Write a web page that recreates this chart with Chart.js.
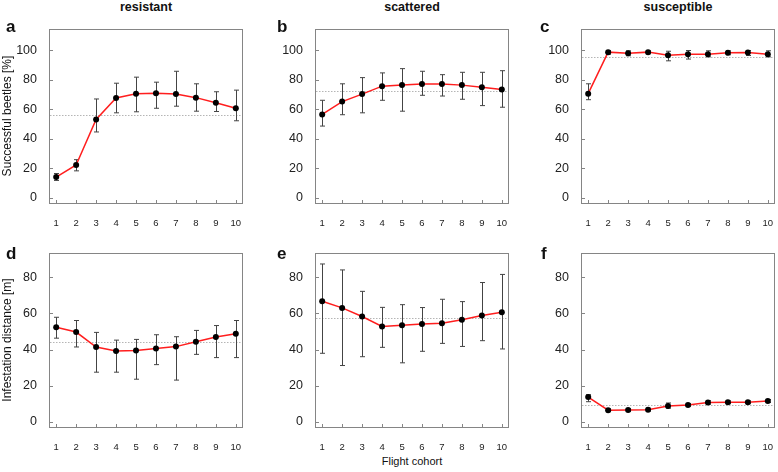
<!DOCTYPE html>
<html>
<head>
<meta charset="utf-8">
<script src="https://cdn.jsdelivr.net/npm/chart.js@4.4.0/dist/chart.umd.min.js"></script>
<style>
  body { margin: 0; background: #fff; }
  #wrap { position: relative; width: 778px; height: 472px; overflow: hidden; font-family: 'Liberation Sans', Arial, sans-serif; color: #111; }
  canvas { position: absolute; }
  .title { position: absolute; width: 194px; text-align: center; font-weight: bold; font-size: 12.5px; line-height: 14px; top: 0; }
  .letter { position: absolute; font-weight: bold; font-size: 17px; line-height: 18px; }
  .ylab { position: absolute; width: 200px; height: 14px; line-height: 14px; font-size: 12px; text-align: center; transform: rotate(-90deg); transform-origin: 50% 50%; }
  .xlab { position: absolute; width: 200px; text-align: center; font-size: 11px; line-height: 13px; }
</style>
</head>
<body>
<div id="wrap">
  <canvas id="chartA" width="242" height="205" style="left:4px;top:24px"></canvas>
  <canvas id="chartB" width="242" height="205" style="left:270px;top:24px"></canvas>
  <canvas id="chartC" width="242" height="205" style="left:536px;top:24px"></canvas>
  <canvas id="chartD" width="242" height="205" style="left:4px;top:248px"></canvas>
  <canvas id="chartE" width="242" height="205" style="left:270px;top:248px"></canvas>
  <canvas id="chartF" width="242" height="205" style="left:536px;top:248px"></canvas>

  <div class="title" style="left:49px">resistant</div>
  <div class="title" style="left:315px">scattered</div>
  <div class="title" style="left:581px">susceptible</div>

  <div class="letter" style="left:6px;top:18px">a</div>
  <div class="letter" style="left:277px;top:18px">b</div>
  <div class="letter" style="left:540px;top:18px">c</div>
  <div class="letter" style="left:6px;top:245px">d</div>
  <div class="letter" style="left:277px;top:245px">e</div>
  <div class="letter" style="left:541px;top:245px">f</div>

  <div class="ylab" style="left:-93px;top:109px">Successful beetles [%]</div>
  <div class="ylab" style="left:-93px;top:333px">Infestation distance [m]</div>
  <div class="xlab" style="left:312px;top:455px">Flight cohort</div>
</div>

<script>
const cohorts = [1, 2, 3, 4, 5, 6, 7, 8, 9, 10];
const successTicks = [0, 20, 40, 60, 80, 100];
const distanceTicks = [0, 20, 40, 60, 80];

// a - resistant, successful beetles
const resistantSuccess = [13.9, 22.1, 53.0, 67.6, 70.5, 70.7, 70.2, 67.8, 64.4, 60.6];
const resistantSuccessLow = [11.6, 18.1, 44.5, 57.5, 58.2, 60.6, 62.0, 58.6, 58.4, 52.1];
const resistantSuccessHigh = [16.3, 25.7, 66.9, 77.6, 81.7, 78.3, 85.7, 77.2, 71.8, 72.9];
const resistantSuccessMean = 55.9;

// b - scattered, successful beetles
const scatteredSuccess = [56.4, 65.1, 70.2, 75.6, 76.3, 77.0, 77.0, 76.3, 74.9, 73.4];
const scatteredSuccessLow = [48.5, 56.2, 57.5, 66.0, 58.6, 69.4, 68.9, 66.7, 62.4, 61.3];
const scatteredSuccessHigh = [66.0, 77.2, 81.4, 84.6, 87.5, 85.7, 83.4, 85.0, 85.0, 86.1];
const scatteredSuccessMean = 72.5;

// c - susceptible, successful beetles
const susceptibleSuccess = [70.5, 98.7, 98.0, 98.7, 96.6, 97.3, 97.3, 98.2, 98.4, 97.3];
const susceptibleSuccessLow = [66.4, 97.3, 96.2, 97.6, 92.8, 94.0, 95.5, 96.9, 96.4, 95.5];
const susceptibleSuccessHigh = [77.2, 99.8, 99.6, 99.6, 99.3, 99.8, 99.6, 99.6, 99.8, 99.6];
const susceptibleSuccessMean = 95.3;

// d - resistant, infestation distance
const resistantDistance = [52.4, 49.7, 41.4, 39.2, 39.5, 40.6, 41.6, 44.3, 46.9, 48.7];
const resistantDistanceLow = [46.3, 41.4, 27.4, 27.4, 23.5, 31.6, 23.0, 37.3, 35.5, 35.5];
const resistantDistanceHigh = [57.9, 56.1, 49.5, 45.2, 45.6, 48.2, 47.1, 50.6, 53.3, 56.1];
const resistantDistanceMean = 44.3;

// e - scattered, infestation distance
const scatteredDistance = [66.8, 63.1, 58.3, 52.8, 53.5, 54.1, 54.6, 56.5, 58.9, 60.7];
const scatteredDistanceLow = [37.9, 31.1, 36.0, 41.2, 32.6, 39.0, 43.4, 41.7, 44.9, 40.3];
const scatteredDistanceHigh = [87.5, 84.2, 72.3, 63.4, 64.9, 63.3, 67.9, 66.6, 77.2, 81.7];
const scatteredDistanceMean = 57.7;

// f - susceptible, infestation distance
const susceptibleDistance = [13.6, 6.3, 6.4, 6.6, 8.6, 9.2, 10.5, 10.7, 10.7, 11.4];
const susceptibleDistanceLow = [11.0, 5.5, 5.6, 5.8, 7.4, 8.4, 9.6, 9.9, 9.9, 10.6];
const susceptibleDistanceHigh = [14.9, 7.1, 7.2, 7.4, 10.3, 10.0, 11.6, 11.5, 11.5, 12.2];
const susceptibleDistanceMean = 9.4;

Chart.defaults.font.family = "'Liberation Sans', Arial, sans-serif";
Chart.defaults.color = '#222';

// box, inward ticks, mean line and error bars
const panelDecor = {
    id: 'panelDecor',
    beforeDatasetsDraw(chart, args, opts) {
        const { ctx, chartArea: a, scales: { x, y } } = chart;
        ctx.save();
        ctx.lineWidth = 1;

        ctx.strokeStyle = '#858585';
        ctx.strokeRect(a.left + 0.5, a.top + 0.5, a.width - 1, a.height - 1);
        ctx.beginPath();
        x.ticks.forEach(t => {
            const px = Math.round(x.getPixelForValue(t.value)) + 0.5;
            ctx.moveTo(px, a.bottom);
            ctx.lineTo(px, a.bottom - 4);
        });
        y.ticks.forEach(t => {
            const py = Math.round(y.getPixelForValue(t.value)) + 0.5;
            ctx.moveTo(a.left, py);
            ctx.lineTo(a.left + 4, py);
        });
        ctx.stroke();

        ctx.strokeStyle = '#b5b5b5';
        ctx.setLineDash([1.5, 1.5]);
        const my = Math.round(y.getPixelForValue(opts.mean)) + 0.5;
        ctx.beginPath();
        ctx.moveTo(a.left + 1, my);
        ctx.lineTo(a.right - 1, my);
        ctx.stroke();
        ctx.setLineDash([]);

        ctx.strokeStyle = '#444';
        ctx.beginPath();
        cohorts.forEach((c, i) => {
            const px = Math.round(x.getPixelForValue(c)) + 0.5;
            const lo = y.getPixelForValue(opts.low[i]);
            const hi = y.getPixelForValue(opts.high[i]);
            ctx.moveTo(px, lo);
            ctx.lineTo(px, hi);
            ctx.moveTo(px - 2.5, lo);
            ctx.lineTo(px + 2.5, lo);
            ctx.moveTo(px - 2.5, hi);
            ctx.lineTo(px + 2.5, hi);
        });
        ctx.stroke();
        ctx.restore();
    }
};

function makePanel(id, values, low, high, mean, yTicks, yMax) {
    const pad = (yMax - 0) * 0.04;
    new Chart(document.getElementById(id), {
        type: 'line',
        data: {
            datasets: [{
                data: cohorts.map((c, i) => ({ x: c, y: values[i] })),
                borderColor: 'rgb(255, 30, 30)',
                borderWidth: 1.5,
                tension: 0,
                pointRadius: 3,
                pointBackgroundColor: '#000',
                pointBorderWidth: 0,
                pointHoverRadius: 3
            }]
        },
        options: {
            responsive: false,
            animation: false,
            events: [],
            layout: { padding: { top: 5, right: 3, left: 0, bottom: 0 } },
            plugins: {
                legend: { display: false },
                tooltip: { enabled: false },
                panelDecor: { mean: mean, low: low, high: high }
            },
            scales: {
                x: {
                    type: 'linear',
                    min: 0.64,
                    max: 10.36,
                    grid: { display: false },
                    border: { display: false },
                    ticks: { font: { size: 9.5 }, padding: 6, maxRotation: 0 },
                    afterBuildTicks: s => { s.ticks = cohorts.map(v => ({ value: v })); },
                    afterFit: s => { s.height = 25; s.paddingLeft = 0; s.paddingRight = 0; }
                },
                y: {
                    min: -pad,
                    max: yMax + pad,
                    grid: { display: false },
                    border: { display: false },
                    ticks: { font: { size: 12.5 }, padding: 4 },
                    afterBuildTicks: s => { s.ticks = yTicks.map(v => ({ value: v })); },
                    afterFit: s => { s.width = 45; s.paddingTop = 0; s.paddingBottom = 0; }
                }
            }
        },
        plugins: [panelDecor]
    });
}

makePanel('chartA', resistantSuccess, resistantSuccessLow, resistantSuccessHigh, resistantSuccessMean, successTicks, 110);
makePanel('chartB', scatteredSuccess, scatteredSuccessLow, scatteredSuccessHigh, scatteredSuccessMean, successTicks, 110);
makePanel('chartC', susceptibleSuccess, susceptibleSuccessLow, susceptibleSuccessHigh, susceptibleSuccessMean, successTicks, 110);
makePanel('chartD', resistantDistance, resistantDistanceLow, resistantDistanceHigh, resistantDistanceMean, distanceTicks, 90);
makePanel('chartE', scatteredDistance, scatteredDistanceLow, scatteredDistanceHigh, scatteredDistanceMean, distanceTicks, 90);
makePanel('chartF', susceptibleDistance, susceptibleDistanceLow, susceptibleDistanceHigh, susceptibleDistanceMean, distanceTicks, 90);
</script>
</body>
</html>
